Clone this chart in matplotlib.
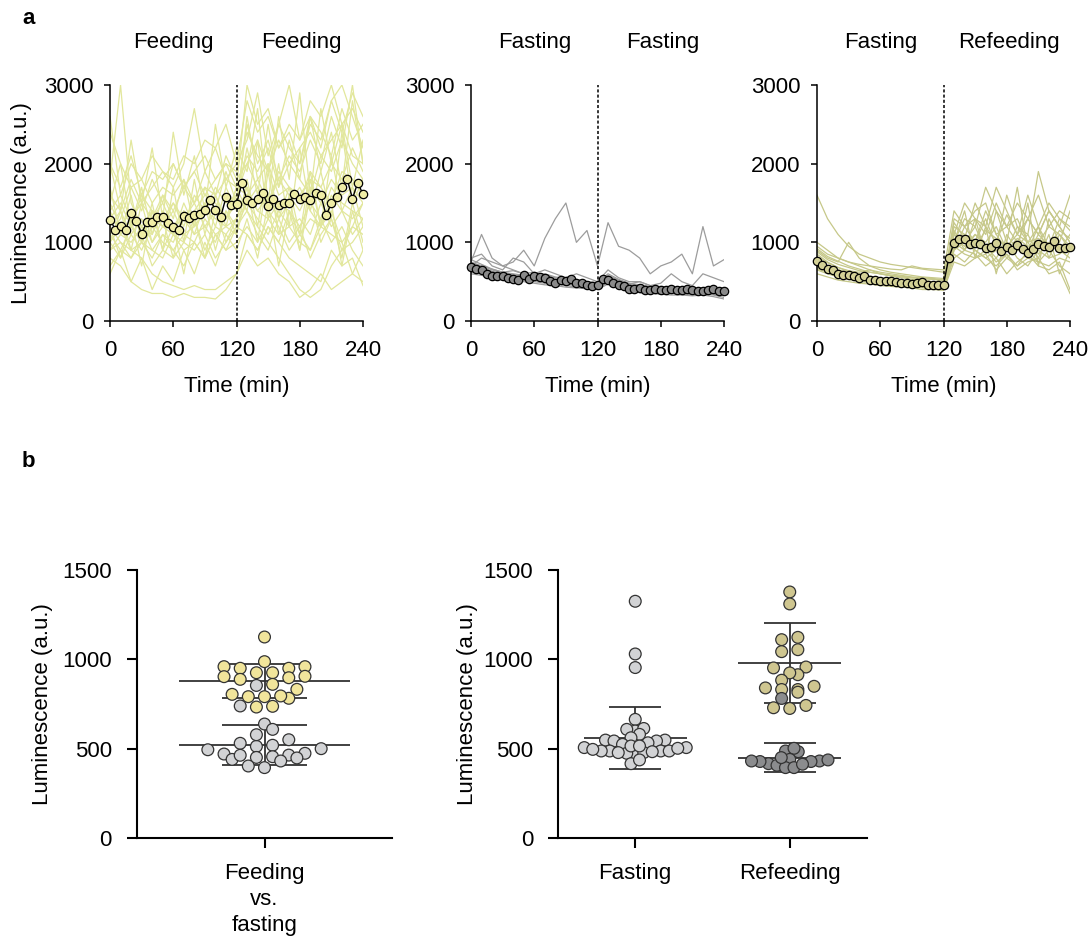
import numpy as np
import matplotlib
matplotlib.use("Agg")
import matplotlib.pyplot as plt

plt.rcParams["font.family"] = ["Liberation Sans", "DejaVu Sans"]
FS = 16

# ---- panel a: population means, sampled every 5 min (0..240) ----
T_MEAN = np.arange(0, 245, 5)
FEED_MEAN = [1290, 1163, 1205, 1154, 1375, 1273, 1112, 1260, 1260, 1324, 1324, 1248, 1197,
             1154, 1337, 1303, 1345, 1358, 1409, 1544, 1409, 1324, 1570, 1472, 1485, 1748,
             1536, 1502, 1557, 1629, 1460, 1557, 1472, 1494, 1494, 1612, 1557, 1578, 1536,
             1629, 1600, 1345, 1494, 1570, 1706, 1799, 1557, 1757, 1612]
FAST_MEAN = [687, 666, 645, 602, 573, 573, 573, 552, 530, 518, 581, 539, 573, 560, 552, 505,
             488, 526, 505, 530, 484, 488, 454, 445, 454, 539, 518, 484, 454, 441, 412, 412,
             420, 399, 399, 412, 399, 399, 407, 390, 399, 412, 390, 382, 382, 390, 412, 382, 382]
REFEED_MEAN = [764, 709, 658, 645, 594, 581, 581, 577, 552, 573, 526, 526, 509, 509, 509, 496,
               488, 484, 475, 484, 496, 462, 462, 462, 462, 802, 993, 1048, 1048, 976, 993, 976,
               933, 942, 993, 887, 942, 900, 963, 912, 866, 912, 984, 955, 942, 1018, 933, 933, 942]

# ---- panel a: single-cell traces, sampled every 10 min (0..240), values x10 a.u. ----
T_TRACE = np.arange(0, 250, 10)
FEED_TRACES = [
    "180 300 150 120 140 130 110 150 120 140 160 130 150 250 200 230 180 210 190 230 200 260 220 300 200",
    "120 100 90 80 60 50 45 40 45 40 40 50 60 110 90 120 100 80 70 60 50 90 70 80 45",
    "140 160 130 150 170 190 180 210 200 230 220 250 200 280 240 260 220 250 230 280 260 300 250 270 240",
    "100 120 140 110 130 120 150 130 140 160 150 130 170 160 180 150 190 170 160 180 170 150 190 180 160",
    "80 70 50 40 35 35 30 35 30 30 28 40 60 90 70 80 60 50 30 40 60 40 50 60 90",
    "130 150 120 160 140 130 150 120 160 140 170 150 160 200 170 150 180 160 140 170 150 180 160 170 150",
    "160 140 180 150 130 160 140 170 190 160 180 200 170 210 190 220 170 200 180 160 210 190 230 200 180",
    "90 110 100 120 90 110 100 130 110 120 100 140 120 150 130 110 140 120 130 110 150 120 140 130 150",
    "110 90 120 100 140 120 110 100 130 90 120 110 130 170 140 160 130 150 170 140 120 160 140 110 130",
    "200 170 210 160 190 180 200 170 190 210 180 200 190 240 210 190 230 200 220 240 210 230 250 210 200",
    "70 90 80 100 90 80 110 90 100 80 110 90 100 120 100 130 110 120 100 90 120 110 100 120 110",
    "150 120 140 110 130 150 120 140 130 150 120 170 140 260 180 200 160 170 150 190 170 200 180 220 190",
    "120 140 110 130 100 120 140 110 120 140 130 120 130 150 170 140 120 90 110 130 120 140 100 60 50",
    "100 80 110 90 120 100 90 110 100 130 110 120 110 160 140 130 150 140 120 150 130 170 150 140 130",
    "240 200 170 180 150 170 160 180 150 170 160 180 170 300 250 270 220 240 200 250 230 280 300 260 220",
    "140 110 130 120 110 140 120 130 150 120 140 130 160 140 120 100 80 60 40 30 40 70 90 120 150",
    "110 130 170 140 180 150 200 170 150 190 160 210 180 200 230 190 250 220 200 260 240 210 270 230 250",
    "90 100 80 110 70 90 80 100 90 110 80 100 120 110 90 120 100 140 110 90 130 100 120 90 70",
    "260 160 200 180 210 190 170 200 270 190 220 180 200 230 290 210 250 300 230 260 220 280 240 290 260",
    "130 120 90 100 80 110 90 70 100 80 110 90 120 140 110 90 130 100 120 80 110 130 90 100 120",
    "150 200 120 170 110 160 130 180 120 170 140 190 150 220 160 250 170 230 180 260 190 240 170 280 200",
    "100 140 90 150 100 130 80 140 110 150 90 140 110 180 120 200 130 170 110 190 120 210 140 170 120",
    "170 110 160 100 150 90 170 100 180 110 160 120 170 140 230 130 200 120 220 140 190 130 240 150 180",
    "60 90 50 80 40 70 50 90 60 100 70 110 90 130 80 150 70 140 90 160 100 130 80 150 100",
    "200 140 230 150 220 130 240 160 210 140 250 170 220 190 270 150 260 180 290 160 270 200 250 170 230",
    "120 80 130 70 140 90 120 60 130 80 140 100 130 170 100 190 110 160 90 180 120 150 70 140 90",
]
FAST_TRACES = [
    "75 110 80 70 75 90 70 105 130 150 100 115 70 125 95 90 80 60 70 75 85 60 120 70 78",
    "80 85 70 65 80 75 60 65 60 55 60 55 50 65 55 50 50 45 48 60 50 45 60 55 50",
    "72 68 63 60 58 57 55 53 52 50 48 47 46 56 50 46 43 42 41 40 40 39 40 38 38",
    "65 62 60 57 55 54 52 50 49 47 45 44 43 52 47 43 40 39 38 37 37 36 37 35 35",
    "70 66 62 58 56 55 54 52 50 49 47 46 45 54 48 44 42 40 40 39 38 38 39 37 36",
    "68 64 60 56 55 56 53 51 49 47 46 44 42 50 46 42 40 38 37 36 36 35 36 34 33",
    "75 70 66 62 60 58 57 55 53 52 50 49 48 58 52 47 45 43 42 41 41 40 41 40 39",
    "62 60 57 55 52 52 50 48 47 45 43 42 41 49 44 40 38 36 36 35 34 34 35 33 30",
    "78 72 66 62 64 60 58 60 56 54 53 50 49 60 53 48 46 44 44 43 42 41 42 41 40",
    "66 63 59 56 53 55 51 50 48 47 45 43 42 51 46 42 39 37 37 36 35 35 36 34 34",
    "73 70 65 61 59 57 56 54 52 50 49 48 47 57 51 46 44 42 41 41 40 39 40 39 38",
    "70 80 75 70 65 60 62 58 55 52 50 48 46 55 50 47 50 45 42 40 44 38 42 40 42",
    "60 58 55 52 50 50 48 46 45 43 42 41 40 47 43 38 36 35 34 33 33 32 33 31 28",
    "74 68 63 60 57 56 55 54 51 50 48 46 45 55 50 46 44 42 40 40 40 39 40 38 36",
]
REFEED_TRACES = [
    "160 130 110 95 85 80 75 72 70 68 66 64 62 140 120 130 110 150 120 100 130 110 140 120 100",
    "100 90 80 75 70 65 62 60 58 56 55 54 52 100 90 110 95 80 100 90 85 110 95 90 80",
    "80 70 65 62 58 55 52 50 48 47 45 44 43 110 150 130 120 170 140 110 130 160 120 140 130",
    "75 68 62 58 55 53 50 48 47 46 44 43 42 95 85 80 90 75 85 70 80 75 90 70 60",
    "70 65 60 57 54 52 50 48 46 45 43 42 40 90 100 120 90 100 80 95 110 85 100 90 110",
    "85 75 68 63 60 57 55 53 51 50 48 47 46 120 110 100 130 95 160 120 110 190 140 120 100",
    "65 60 56 53 50 49 47 46 45 44 42 41 40 85 75 90 80 70 85 65 75 80 60 65 35",
    "90 80 75 100 80 70 65 62 60 58 56 55 54 105 95 110 100 120 90 105 95 100 120 110 95",
    "72 66 62 58 56 54 52 50 48 47 46 45 44 100 110 90 80 90 100 80 70 90 80 85 95",
    "78 70 64 60 58 55 53 52 50 48 47 46 45 130 120 140 150 110 120 130 100 120 150 130 120",
    "68 62 58 55 52 50 49 47 46 45 44 42 41 80 90 85 70 80 60 75 85 70 65 75 40",
    "82 74 68 64 62 65 60 57 55 53 52 50 48 110 100 95 115 105 95 110 100 105 95 115 105",
    "95 85 80 75 72 70 68 66 65 70 67 66 65 100 130 120 170 140 120 150 130 110 140 120 160",
    "60 56 52 50 48 47 45 44 43 42 40 40 39 75 70 80 85 65 80 70 90 75 70 80 75",
    "70 64 60 56 53 51 49 48 47 46 45 44 42 100 140 80 120 60 110 90 150 70 130 100 140",
    "88 78 72 68 64 62 60 58 56 55 54 53 51 115 90 130 85 140 100 170 90 120 80 110 90",
    "66 62 58 55 52 50 48 46 45 44 43 42 41 90 120 100 140 110 90 120 100 80 110 60 90",
    "92 82 76 70 66 62 60 58 57 55 54 53 52 125 105 150 120 100 135 110 160 120 95 130 115",
]
PANEL_A_HEADERS = [("Feeding", "Feeding"), ("Fasting", "Fasting"), ("Fasting", "Refeeding")]

# ---- panel b: per-cell luminescence ----
B1_FEED = [1125, 959, 950, 925, 925, 950, 959, 987, 905, 897, 860, 832, 888, 903, 804, 791,
           782, 791, 795, 737, 733]
B1_FAST = [854, 739, 638, 608, 550, 519, 500, 474, 494, 470, 513, 530, 578, 464, 455, 448,
           431, 440, 451, 463, 394, 403]
B2_FAST = [1325, 1030, 954, 664, 599, 608, 613, 580, 548, 543, 561, 548, 543, 506, 533, 524,
           487, 474, 487, 474, 487, 496, 506, 487, 515, 478, 502, 483, 416, 437, 515, 478]
B2_REFEED_ON = [1377, 1310, 1123, 1110, 1054, 1043, 957, 952, 914, 924, 883, 849, 831, 831,
                840, 816, 742, 725, 729]
B2_REFEED_OFF = [487, 483, 502, 431, 416, 440, 407, 428, 394, 428, 394, 437, 413, 431, 781, 450]
# mean and SD as drawn in the figure
B1_STATS = {"feed": (877, 95), "fast": (520, 110)}
B2_STATS = {"fast": (561, 173), "on": (978, 225), "off": (450, 83)}

C_FEED_TR, C_FEED_MK = "#e2e79c", "#efeda6"
C_FAST_TR, C_FAST_MK = "#9c9c9c", "#8a8a8a"
C_REF_TR, C_REF_MK = "#c6c889", "#d4d196"
C_YEL, C_LGRY, C_OLV, C_DGRY = "#f1e59b", "#d2d3d5", "#cfc690", "#8b8c8e"


def parse(s):
    return np.array(s.split(), float) * 10


def style_axes(ax, lw, length, pad):
    for s in ("top", "right"):
        ax.spines[s].set_visible(False)
    for s in ("left", "bottom"):
        ax.spines[s].set_linewidth(lw)
    ax.tick_params(labelsize=FS, width=lw, length=length, pad=pad)


def prism_offsets(vals, row_h, step):
    """Group sorted values into rows of height row_h, spread each row centre-out."""
    vals = np.asarray(vals, float)
    order = np.argsort(vals, kind="stable")
    rows, cur, start = [], [], None
    for i in order:
        if start is None or vals[i] - start >= row_h:
            if cur:
                rows.append(cur)
            cur, start = [i], vals[i]
        else:
            cur.append(i)
    rows.append(cur)
    offs = np.zeros(len(vals))
    for idx in rows:
        n = len(idx)
        slots = (np.arange(n) - (n - 1) / 2) * step
        offs[idx] = slots[np.argsort(np.abs(slots), kind="stable")]
    return offs


def column(ax, x0, groups, row_h, step):
    vals = np.concatenate([g[0] for g in groups])
    cols = np.concatenate([[g[1]] * len(g[0]) for g in groups])
    offs = prism_offsets(vals, row_h, step)
    ax.scatter(x0 + offs, vals, s=72, c=list(cols), edgecolors="#333333",
               linewidths=0.9, zorder=3, clip_on=False)


def stat_lines(ax, x0, mean, sd, half_mean, half_cap):
    kw = dict(color="#333333", lw=1.3, zorder=2)
    ax.hlines(mean, x0 - half_mean, x0 + half_mean, **kw)
    ax.hlines([mean - sd, mean + sd], x0 - half_cap, x0 + half_cap, **kw)
    ax.vlines(x0, mean - sd, mean + sd, **kw)


fig = plt.figure(figsize=(10.92, 9.39), dpi=100)

a_lefts = [110, 471, 817]
a_sets = [(FEED_TRACES, FEED_MEAN, C_FEED_TR, C_FEED_MK),
          (FAST_TRACES, FAST_MEAN, C_FAST_TR, C_FAST_MK),
          (REFEED_TRACES, REFEED_MEAN, C_REF_TR, C_REF_MK)]
for i, (left, (traces, mean, ctr, cmk)) in enumerate(zip(a_lefts, a_sets)):
    ax = fig.add_axes([left / 1092, 1 - 321 / 939, 253 / 1092, 236 / 939])
    for s in traces:
        ax.plot(T_TRACE, parse(s), color=ctr, lw=0.9, zorder=1)
    ax.axvline(120, color="black", lw=1.1, ls=(0, (2, 1.4)), zorder=2)
    ax.plot(T_MEAN, mean, color="black", lw=1.0, marker="o", ms=6,
            mfc=cmk, mec="black", mew=0.9, zorder=3, clip_on=False)
    ax.set_xlim(0, 240)
    ax.set_ylim(0, 3000)
    ax.set_xticks([0, 60, 120, 180, 240])
    ax.set_yticks([0, 1000, 2000, 3000])
    style_axes(ax, 1.1, 4, 8)
    ax.tick_params(axis="x", pad=10)
    ax.set_xlabel("Time (min)", fontsize=FS)
    ax.xaxis.set_label_coords(0.5, -0.235)
    h1, h2 = PANEL_A_HEADERS[i]
    ax.text(60, 1.18, h1, fontsize=FS, ha="center", va="center",
            transform=ax.get_xaxis_transform())
    ax.text(182, 1.18, h2, fontsize=FS, ha="center", va="center",
            transform=ax.get_xaxis_transform())
    if i == 0:
        ax.set_ylabel("Luminescence (a.u.)", fontsize=FS)
        ax.yaxis.set_label_coords(-0.31, 0.5)

# panel b, left
bx1 = fig.add_axes([137 / 1092, 1 - 838 / 939, 255 / 1092, 268 / 939])
stat_lines(bx1, 0, *B1_STATS["feed"], 0.67, 0.33)
stat_lines(bx1, 0, *B1_STATS["fast"], 0.67, 0.33)
column(bx1, 0, [(np.array(B1_FEED, float), C_YEL), (np.array(B1_FAST, float), C_LGRY)],
       55, 0.127)
bx1.set_xlim(-1, 1)
bx1.set_ylim(0, 1500)
bx1.set_xticks([0])
bx1.set_xticklabels(["Feeding\nvs.\nfasting"], linespacing=1.3)
bx1.set_yticks([0, 500, 1000, 1500])
style_axes(bx1, 1.5, 7, 11)
bx1.set_ylabel("Luminescence (a.u.)", fontsize=FS)
bx1.yaxis.set_label_coords(-0.33, 0.5)

# panel b, right
bx2 = fig.add_axes([558 / 1092, 1 - 838 / 939, 309 / 1092, 268 / 939])
stat_lines(bx2, 0, *B2_STATS["fast"], 0.333, 0.167)
stat_lines(bx2, 1, *B2_STATS["on"], 0.333, 0.167)
stat_lines(bx2, 1, *B2_STATS["off"], 0.333, 0.167)
column(bx2, 0, [(np.array(B2_FAST, float), C_LGRY)], 35, 0.055)
off = np.array(B2_REFEED_OFF, float)
# responders spread loosely; the tight non-responder cluster packed closer
column(bx2, 1, [(np.array(B2_REFEED_ON, float), C_OLV), (off[off > 700], C_DGRY)], 40, 0.105)
column(bx2, 1, [(off[off <= 700], C_DGRY)], 45, 0.055)
bx2.set_xlim(-0.5, 1.5)
bx2.set_ylim(0, 1500)
bx2.set_xticks([0, 1])
bx2.set_xticklabels(["Fasting", "Refeeding"])
bx2.set_yticks([0, 500, 1000, 1500])
style_axes(bx2, 1.5, 7, 11)
bx2.set_ylabel("Luminescence (a.u.)", fontsize=FS)
bx2.yaxis.set_label_coords(-0.26, 0.5)

fig.text(22 / 1092, 1 - 18 / 939, "a", fontsize=16, fontweight="bold", va="center")
fig.text(22 / 1092, 1 - 462 / 939, "b", fontsize=16, fontweight="bold", va="center")

fig.savefig("out.png", dpi=100)
